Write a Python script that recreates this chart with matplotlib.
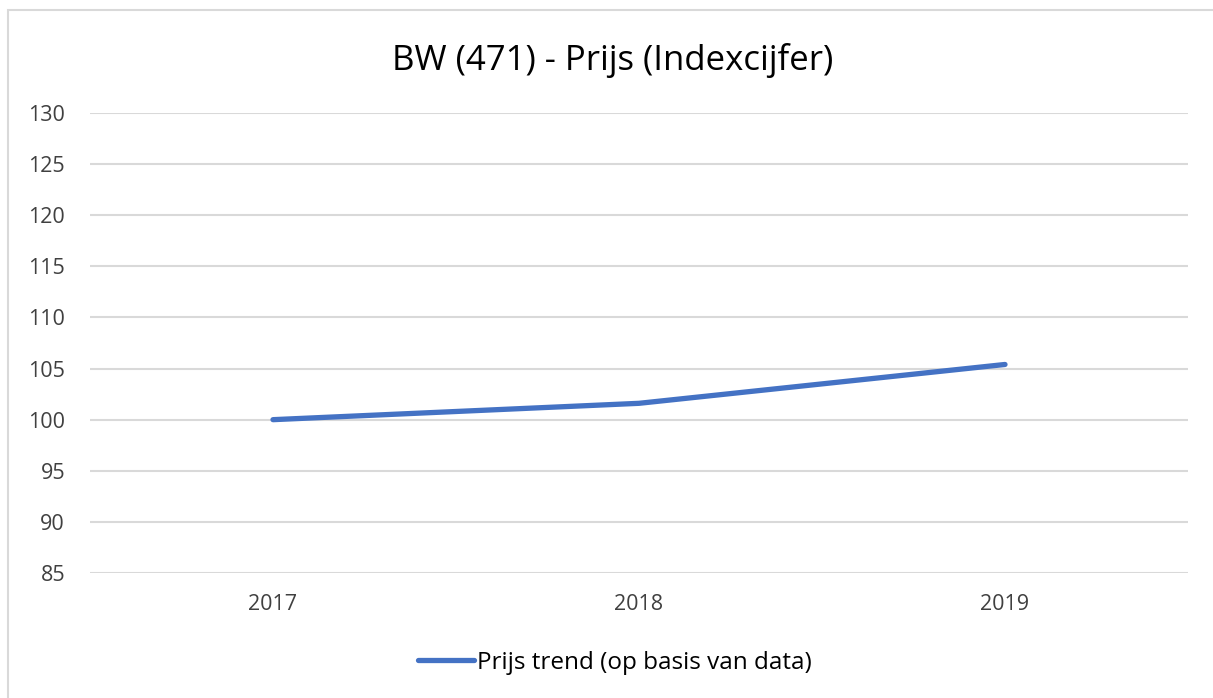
import numpy as np
import matplotlib.pyplot as plt
from matplotlib.patches import Rectangle

# data
years = ['2017', '2018', '2019']
prijs = [100.0, 101.6, 105.4]
y_ticks = [85, 90, 95, 100, 105, 110, 115, 120, 125, 130]

plt.rcParams['font.family'] = ['Open Sans', 'DejaVu Sans']

fig = plt.figure(figsize=(12.13, 6.98), dpi=100)
ax = fig.add_axes([90 / 1213, 1 - 573 / 698, 1098 / 1213, 460 / 698])

x = np.arange(len(years))
ax.plot(x, prijs, color='#4472C4', linewidth=3.8, solid_capstyle='round',
        label='Prijs trend (op basis van data)')

ax.set_xlim(-0.5, len(years) - 0.5)
ax.set_ylim(85, 130)
ax.set_yticks(y_ticks)
ax.set_xticks(x)
ax.set_xticklabels(years)
ax.tick_params(axis='both', length=0, labelsize=15.5, colors='#404040')
ax.tick_params(axis='y', pad=18)
ax.tick_params(axis='x', pad=15)
ax.grid(axis='y', color='#D9D9D9', linewidth=1.5)
ax.set_axisbelow(True)
for s in ax.spines.values():
    s.set_visible(False)

fig.text(613 / 1213, 1 - 60 / 698, 'BW (471) - Prijs (Indexcijfer)',
         ha='center', va='center', fontsize=25, color='#000000')

leg = fig.legend(loc='center', bbox_to_anchor=(615 / 1213, 1 - 663 / 698),
                 frameon=False, fontsize=17.5, handlelength=2.3,
                 handletextpad=0.1)
for t in leg.get_texts():
    t.set_color('#000000')

# chart border (only left and top visible in the crop)
fig.patches.append(Rectangle((8 / 1213, -0.1), 1.2, 1.1 - 10 / 698,
                             transform=fig.transFigure, fill=False,
                             edgecolor='#D9D9D9', linewidth=1.5))

fig.savefig('out.png', dpi=100)
